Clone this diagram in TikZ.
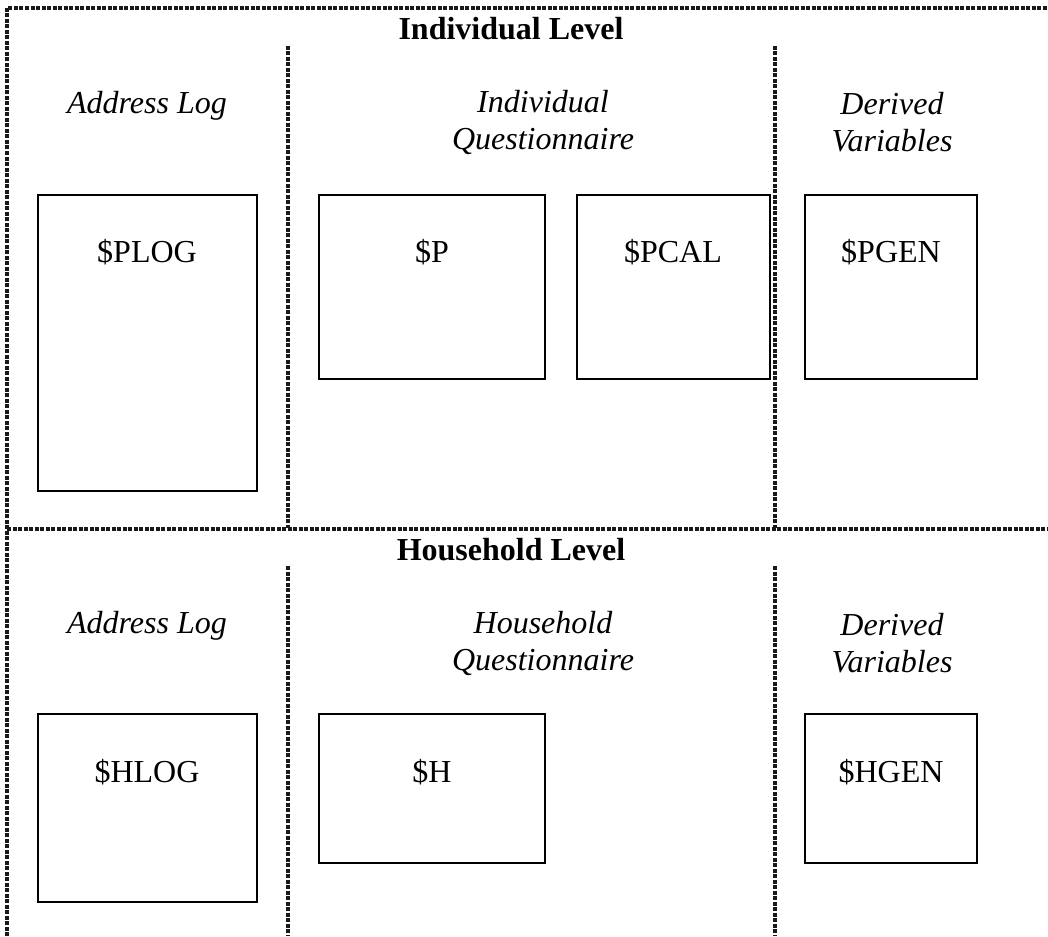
\documentclass[tikz,border=0pt]{standalone}
\usepackage{fontspec}
\setmainfont{Liberation Serif}
\begin{document}
\begin{tikzpicture}[x=1pt,y=-1pt,
  divider/.style={line width=3.5pt, dash pattern=on 4pt off 1.5pt, black!90},
  filebox/.style={draw, line width=2pt, inner sep=0pt},
  heading/.style={font=\fontsize{32}{34}\selectfont\bfseries},
  section/.style={font=\fontsize{32}{37}\selectfont\itshape, align=center},
  fname/.style={font=\fontsize{32}{34}\selectfont}]
\useasboundingbox (0,0) rectangle (1048,936);
% frame and dividers
\coordinate (tl) at (7,8);
\coordinate (tr) at (1048,8);
\coordinate (bl) at (7,936);
\coordinate (ml) at (7,529);
\coordinate (mr) at (1048,529);
\draw[divider] (bl) -- (tl) -- (tr);
\draw[divider] (ml) -- (mr);
\coordinate (v1a) at (288,46); \coordinate (v1b) at (288,528);
\coordinate (v2a) at (775,46); \coordinate (v2b) at (775,528);
\coordinate (v3a) at (288,566); \coordinate (v3b) at (288,936);
\coordinate (v4a) at (775,566); \coordinate (v4b) at (775,936);
\draw[divider] (v1a) -- (v1b);
\draw[divider] (v2a) -- (v2b);
\draw[divider] (v3a) -- (v3b);
\draw[divider] (v4a) -- (v4b);
% headings
\node[heading] (ind) at (511,29) {Individual Level};
\node[heading] (hh) at (511,550) {Household Level};
\node[section] (al1) at (147,106) {Address Log};
\node[section] (iq) at (543,122) {Individual\\Questionnaire};
\node[section] (dv1) at (892,122) {Derived\\Variables};
\node[section] (al2) at (147,626) {Address Log};
\node[section] (hq) at (543,643) {Household\\Questionnaire};
\node[section] (dv2) at (892,643) {Derived\\Variables};
% boxes
\draw[filebox] (38,195) rectangle (257,491);
\draw[filebox] (319,195) rectangle (545,379);
\draw[filebox] (577,195) rectangle (770,379);
\draw[filebox] (805,195) rectangle (977,379);
\draw[filebox] (38,714) rectangle (257,902);
\draw[filebox] (319,714) rectangle (545,863);
\draw[filebox] (805,714) rectangle (977,863);
\node[fname] (plog) at (147,252) {\$PLOG};
\node[fname] (p) at (432,252) {\$P};
\node[fname] (pcal) at (673,252) {\$PCAL};
\node[fname] (pgen) at (891,252) {\$PGEN};
\node[fname] (hlog) at (147,772) {\$HLOG};
\node[fname] (h) at (432,772) {\$H};
\node[fname] (hgen) at (891,772) {\$HGEN};
\end{tikzpicture}
\end{document}
